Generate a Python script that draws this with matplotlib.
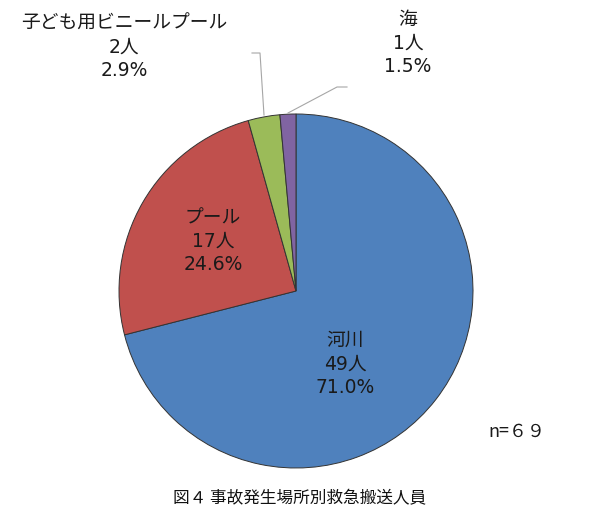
import matplotlib.pyplot as plt

plt.rcParams['font.family'] = ['DejaVu Sans', 'Noto Sans CJK JP']

# data
places = ["河川", "プール", "子ども用ビニールプール", "海"]
counts = [49, 17, 2, 1]
shares = [71.0, 24.6, 2.9, 1.5]
colors = ["#4F81BD", "#C0504D", "#9BBB59", "#8064A2"]
total_label = "n=６９"
title = "図４ 事故発生場所別救急搬送人員"

W, H = 598, 518
CX, CY, R = 296, H - 291, 177


def main():
    fig = plt.figure(figsize=(W / 100, H / 100), dpi=100)
    ax = fig.add_axes([0, 0, 1, 1])

    ax.pie(counts, colors=colors, startangle=90, counterclock=False,
           center=(CX, CY), radius=R, frame=True,
           wedgeprops=dict(edgecolor="#333333", linewidth=0.7))
    ax.set_xlim(0, W)
    ax.set_ylim(0, H)
    ax.set_aspect("equal")
    ax.axis("off")

    # label positions (pixel coords, y from top)
    label_pos = [(345, 364), (213, 241), (124, 47), (408, 43)]
    for (px, py), name, n, pct in zip(label_pos, places, counts, shares):
        ax.text(px, H - py, f"{name}\n{n}人\n{pct:.1f}%", ha="center", va="center",
                fontsize=13.5, linespacing=1.3, color="#1a1a1a")

    # leader lines for the small slices
    ax.plot([252, 260, 264], [H - 53, H - 53, H - 115], color="#A6A6A6", lw=0.8)
    ax.plot([347, 337, 288], [H - 87, H - 87, H - 113], color="#A6A6A6", lw=0.8)

    ax.text(517, H - 432, total_label, ha="center", va="center", fontsize=13,
            family="Noto Sans CJK JP", color="#1a1a1a")
    ax.text(300, H - 499, title, ha="center", va="center", fontsize=12,
            family="Noto Sans CJK JP", color="#111111")

    fig.savefig("out.png", dpi=100)


if __name__ == "__main__":
    main()
